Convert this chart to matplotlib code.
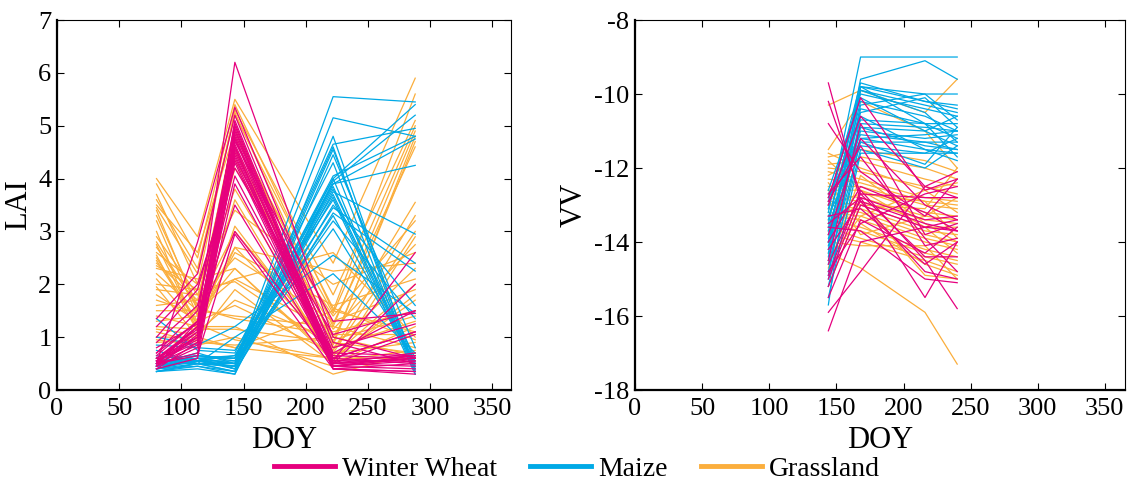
import matplotlib
matplotlib.use('Agg')
import matplotlib.pyplot as plt
from matplotlib.lines import Line2D

plt.rcParams['font.family'] = ['Liberation Serif', 'DejaVu Serif']
plt.rcParams['axes.unicode_minus'] = False

# colores por cultivo
c_ww = '#E6007E'
c_mz = '#00A9E6'
c_gr = '#FBAE3C'

# ---- LAI ----
doy_lai = [80, 113, 143, 222, 288]

lai_ww = [
    [0.45, 1.3, 6.2, 1.0, 0.6],
    [0.5, 2.8, 5.35, 0.9, 0.5],
    [1.35, 2.2, 5.2, 0.7, 1.5],
    [0.6, 1.0, 5.1, 0.55, 0.65],
    [0.55, 1.2, 5.0, 0.5, 0.6],
    [0.7, 1.5, 4.95, 0.45, 0.55],
    [0.4, 0.9, 4.9, 0.6, 1.1],
    [0.5, 1.1, 4.8, 0.5, 0.45],
    [0.65, 1.3, 4.75, 0.45, 0.65],
    [0.45, 0.8, 4.7, 1.3, 1.45],
    [0.55, 1.0, 4.65, 0.6, 0.5],
    [0.9, 1.6, 4.6, 0.4, 0.35],
    [0.5, 0.7, 4.55, 0.55, 2.6],
    [0.6, 1.2, 4.5, 0.5, 0.6],
    [0.4, 0.6, 4.45, 0.45, 0.4],
    [1.0, 1.9, 4.4, 0.7, 0.65],
    [0.55, 0.95, 4.35, 0.5, 1.05],
    [0.45, 1.0, 4.3, 0.4, 0.5],
    [1.2, 2.0, 4.2, 1.05, 1.5],
    [0.6, 1.1, 4.05, 0.55, 0.55],
    [0.5, 0.85, 3.9, 0.5, 2.0],
    [0.7, 1.3, 3.5, 0.45, 0.6],
    [0.5, 0.65, 2.95, 0.4, 0.35],
    [0.8, 1.25, 3.0, 0.6, 1.1],
    [0.45, 1.05, 4.85, 0.65, 0.6],
    [0.6, 1.15, 5.05, 0.5, 0.7],
    [0.55, 0.9, 4.6, 0.4, 0.3],
    [0.5, 1.2, 4.75, 0.8, 1.25],
]

lai_mz = [
    [0.4, 0.6, 0.5, 5.55, 5.45],
    [0.45, 0.55, 0.45, 5.15, 4.8],
    [0.35, 0.5, 0.35, 4.8, 0.4],
    [0.5, 0.65, 0.6, 4.65, 4.95],
    [0.4, 0.6, 0.4, 4.55, 0.5],
    [1.35, 0.75, 0.7, 4.3, 0.35],
    [0.45, 0.55, 0.55, 4.05, 4.8],
    [0.6, 0.5, 0.45, 4.0, 5.4],
    [0.35, 0.45, 0.3, 3.95, 5.2],
    [0.55, 0.6, 0.65, 3.9, 4.25],
    [0.4, 0.5, 0.5, 3.85, 0.45],
    [0.5, 0.7, 0.5, 3.8, 0.6],
    [0.45, 0.55, 0.4, 3.75, 2.95],
    [0.85, 0.8, 0.75, 3.6, 0.3],
    [0.4, 0.45, 0.35, 3.5, 1.6],
    [0.5, 0.6, 0.6, 3.45, 2.4],
    [0.35, 0.5, 0.45, 3.3, 0.5],
    [0.6, 0.65, 0.55, 3.2, 1.35],
    [0.45, 0.6, 0.4, 3.9, 4.75],
    [1.0, 0.85, 1.2, 2.55, 1.45],
    [0.75, 0.5, 1.0, 2.2, 0.7],
    [0.4, 0.55, 0.5, 4.6, 0.35],
    [0.5, 0.5, 0.45, 3.65, 0.4],
    [0.45, 0.65, 0.6, 4.0, 0.3],
    [0.55, 0.5, 0.35, 3.35, 2.25],
    [0.4, 0.6, 0.5, 3.05, 0.55],
    [0.65, 0.55, 0.65, 3.7, 0.45],
    [0.35, 0.4, 0.3, 4.45, 0.8],
]

lai_gr = [
    [4.0, 2.9, 5.5, 2.4, 5.9],
    [3.9, 2.5, 5.4, 1.5, 5.6],
    [3.7, 2.0, 5.3, 1.8, 5.1],
    [3.45, 2.2, 5.25, 1.2, 4.9],
    [3.4, 1.5, 5.0, 0.9, 4.7],
    [3.3, 1.6, 4.5, 1.0, 3.55],
    [3.2, 1.4, 4.2, 1.4, 3.2],
    [2.9, 1.8, 3.8, 0.7, 3.0],
    [2.75, 1.2, 3.6, 0.5, 2.9],
    [2.6, 2.0, 3.4, 2.0, 2.6],
    [2.55, 1.1, 2.7, 0.8, 2.3],
    [2.5, 1.3, 2.6, 1.6, 2.1],
    [2.4, 1.7, 2.5, 1.3, 1.9],
    [2.3, 2.1, 2.3, 0.6, 1.7],
    [2.2, 1.5, 2.1, 1.1, 1.5],
    [2.0, 1.9, 2.05, 0.8, 1.3],
    [1.95, 1.0, 1.9, 0.5, 1.2],
    [1.9, 1.8, 2.1, 2.6, 1.0],
    [1.8, 1.3, 1.6, 0.7, 0.9],
    [1.5, 1.5, 1.4, 1.2, 0.8],
    [1.4, 1.2, 1.2, 0.3, 0.7],
    [1.2, 1.15, 1.15, 0.9, 0.7],
    [1.1, 0.9, 0.85, 1.0, 0.65],
    [1.0, 1.0, 0.8, 0.6, 0.6],
    [0.9, 0.95, 0.8, 1.5, 1.1],
    [2.7, 1.6, 3.0, 0.75, 3.3],
    [3.5, 2.6, 4.9, 1.25, 4.6],
    [1.3, 1.4, 2.7, 2.25, 2.4],
    [3.0, 1.1, 1.7, 0.95, 1.4],
    [2.45, 1.25, 0.95, 0.6, 1.8],
    [1.6, 1.7, 4.8, 1.45, 5.0],
    [2.1, 1.2, 4.6, 0.85, 4.8],
    [1.15, 1.05, 3.1, 0.65, 2.0],
    [3.6, 2.3, 5.2, 1.55, 0.95],
    [1.7, 1.45, 2.3, 0.55, 0.75],
    [2.35, 1.9, 4.35, 1.15, 2.75],
    [0.95, 0.85, 1.0, 0.45, 0.6],
    [2.8, 1.55, 1.35, 1.05, 1.05],
]

# ---- VV ----
doy_vv = [144, 168, 216, 240]

vv_mz = [
    [-13.2, -9.0, -9.0, -9.0],
    [-14.0, -9.6, -9.1, -9.6],
    [-15.7, -9.8, -10.0, -10.0],
    [-13.5, -9.8, -10.2, -10.3],
    [-14.2, -9.9, -10.3, -10.5],
    [-12.9, -10.0, -10.4, -10.6],
    [-13.8, -10.2, -10.6, -11.0],
    [-14.5, -10.4, -10.8, -11.2],
    [-13.0, -10.7, -10.8, -10.8],
    [-14.8, -10.8, -10.9, -11.0],
    [-13.6, -10.9, -11.0, -11.4],
    [-14.1, -11.0, -11.2, -11.1],
    [-12.7, -11.1, -11.3, -11.5],
    [-13.9, -11.2, -11.5, -11.8],
    [-14.6, -11.3, -11.3, -11.3],
    [-13.3, -11.4, -11.6, -11.2],
    [-15.0, -11.5, -12.0, -11.4],
    [-13.7, -10.5, -10.1, -10.9],
    [-14.3, -9.8, -10.8, -11.7],
    [-12.6, -10.1, -11.0, -10.6],
    [-14.9, -10.6, -11.5, -11.6],
    [-13.4, -9.9, -10.5, -11.3],
    [-12.8, -11.3, -11.9, -10.9],
    [-14.4, -10.3, -10.0, -10.7],
    [-15.2, -11.2, -11.1, -11.0],
    [-13.1, -9.7, -10.2, -10.4],
    [-14.0, -10.9, -11.4, -11.5],
    [-15.5, -11.6, -11.6, -11.6],
]

vv_ww = [
    [-9.7, -12.9, -13.5, -13.7],
    [-10.2, -12.7, -14.4, -14.4],
    [-10.8, -12.1, -13.3, -12.3],
    [-12.8, -10.1, -12.6, -12.3],
    [-13.0, -10.6, -12.5, -12.8],
    [-14.5, -10.8, -13.8, -13.5],
    [-15.9, -14.8, -12.5, -12.1],
    [-16.4, -14.0, -13.6, -13.4],
    [-14.9, -12.6, -14.5, -15.8],
    [-13.5, -12.8, -15.5, -14.0],
    [-14.2, -12.9, -14.8, -15.0],
    [-15.2, -13.0, -13.6, -13.7],
    [-13.8, -11.2, -13.0, -13.4],
    [-14.6, -12.7, -12.8, -12.8],
    [-15.5, -13.4, -14.3, -13.6],
    [-12.7, -11.7, -13.9, -14.8],
    [-14.0, -12.5, -13.2, -13.7],
    [-13.3, -13.1, -14.6, -14.0],
    [-14.8, -13.5, -12.7, -12.5],
    [-12.9, -11.4, -14.1, -13.9],
    [-15.0, -12.8, -13.4, -13.3],
    [-13.6, -13.7, -15.0, -15.1],
]

vv_gr = [
    [-10.3, -9.9, -10.5, -9.6],
    [-11.5, -10.2, -11.0, -12.0],
    [-11.7, -11.5, -11.8, -12.1],
    [-11.9, -11.8, -12.3, -12.5],
    [-12.0, -12.1, -12.5, -12.7],
    [-12.1, -12.3, -12.8, -12.9],
    [-12.3, -12.4, -12.9, -13.0],
    [-12.5, -12.5, -13.0, -13.1],
    [-12.6, -12.6, -13.2, -13.3],
    [-12.7, -12.8, -13.3, -13.4],
    [-12.8, -12.9, -13.4, -13.5],
    [-12.9, -13.0, -13.6, -13.6],
    [-13.0, -13.1, -13.7, -13.8],
    [-13.1, -13.2, -13.8, -14.0],
    [-13.2, -13.3, -13.9, -14.1],
    [-13.3, -13.4, -14.0, -14.2],
    [-13.4, -13.6, -14.2, -14.4],
    [-13.5, -13.7, -14.3, -14.5],
    [-13.6, -13.9, -14.4, -14.6],
    [-13.8, -14.0, -14.5, -14.8],
    [-14.0, -14.1, -14.1, -15.0],
    [-14.3, -14.7, -15.9, -17.3],
    [-14.7, -12.2, -13.5, -14.0],
    [-15.2, -13.0, -13.1, -12.0],
    [-11.6, -12.0, -12.6, -13.2],
    [-12.2, -11.7, -12.0, -12.3],
    [-12.4, -13.5, -14.6, -14.9],
    [-13.0, -12.7, -12.9, -13.9],
    [-12.6, -13.8, -13.3, -12.8],
    [-11.8, -12.6, -13.6, -14.3],
    [-14.5, -13.3, -12.6, -12.4],
    [-13.7, -12.9, -14.9, -15.0],
]

labels = ['Winter Wheat', 'Maize', 'Grassland']


def dibujar(ax, doy, series):
    for filas, col in series:
        for fila in filas:
            ax.plot(doy, fila, color=col, lw=0.9)


def formato(ax, ylabel, ylim, yticks):
    ax.set_xlim(0, 365)
    ax.set_ylim(*ylim)
    ax.set_xticks(range(0, 351, 50))
    ax.set_yticks(yticks)
    ax.tick_params(direction='in', length=5, labelsize=19, top=True, right=True,
                   width=0.8)
    ax.tick_params(axis='x', pad=6)
    ax.tick_params(axis='y', pad=4)
    ax.set_xlabel('DOY', fontsize=22, labelpad=4)
    ax.set_ylabel(ylabel, fontsize=22, labelpad=4)
    for s in ['left', 'bottom']:
        ax.spines[s].set_linewidth(1.6)
    for s in ['top', 'right']:
        ax.spines[s].set_linewidth(0.8)


fig = plt.figure(figsize=(11.31, 4.92), dpi=100)
ax1 = fig.add_axes([0.0504, 0.2073, 0.4014, 0.752])
ax2 = fig.add_axes([0.5615, 0.2073, 0.4332, 0.752])

dibujar(ax1, doy_lai, [(lai_gr, c_gr), (lai_mz, c_mz), (lai_ww, c_ww)])
dibujar(ax2, doy_vv, [(vv_gr, c_gr), (vv_mz, c_mz), (vv_ww, c_ww)])

formato(ax1, 'LAI', (0, 7), list(range(0, 8)))
formato(ax2, 'VV', (-18, -8), list(range(-18, -7, 2)))

handles = [Line2D([], [], color=c, lw=3.5) for c in [c_ww, c_mz, c_gr]]
fig.legend(handles, labels, loc='lower center', bbox_to_anchor=(0.51, -0.03),
           ncol=3, frameon=False, fontsize=20, handlelength=2.2,
           handletextpad=0.25, columnspacing=1.2)

fig.savefig('out.png', dpi=100)
